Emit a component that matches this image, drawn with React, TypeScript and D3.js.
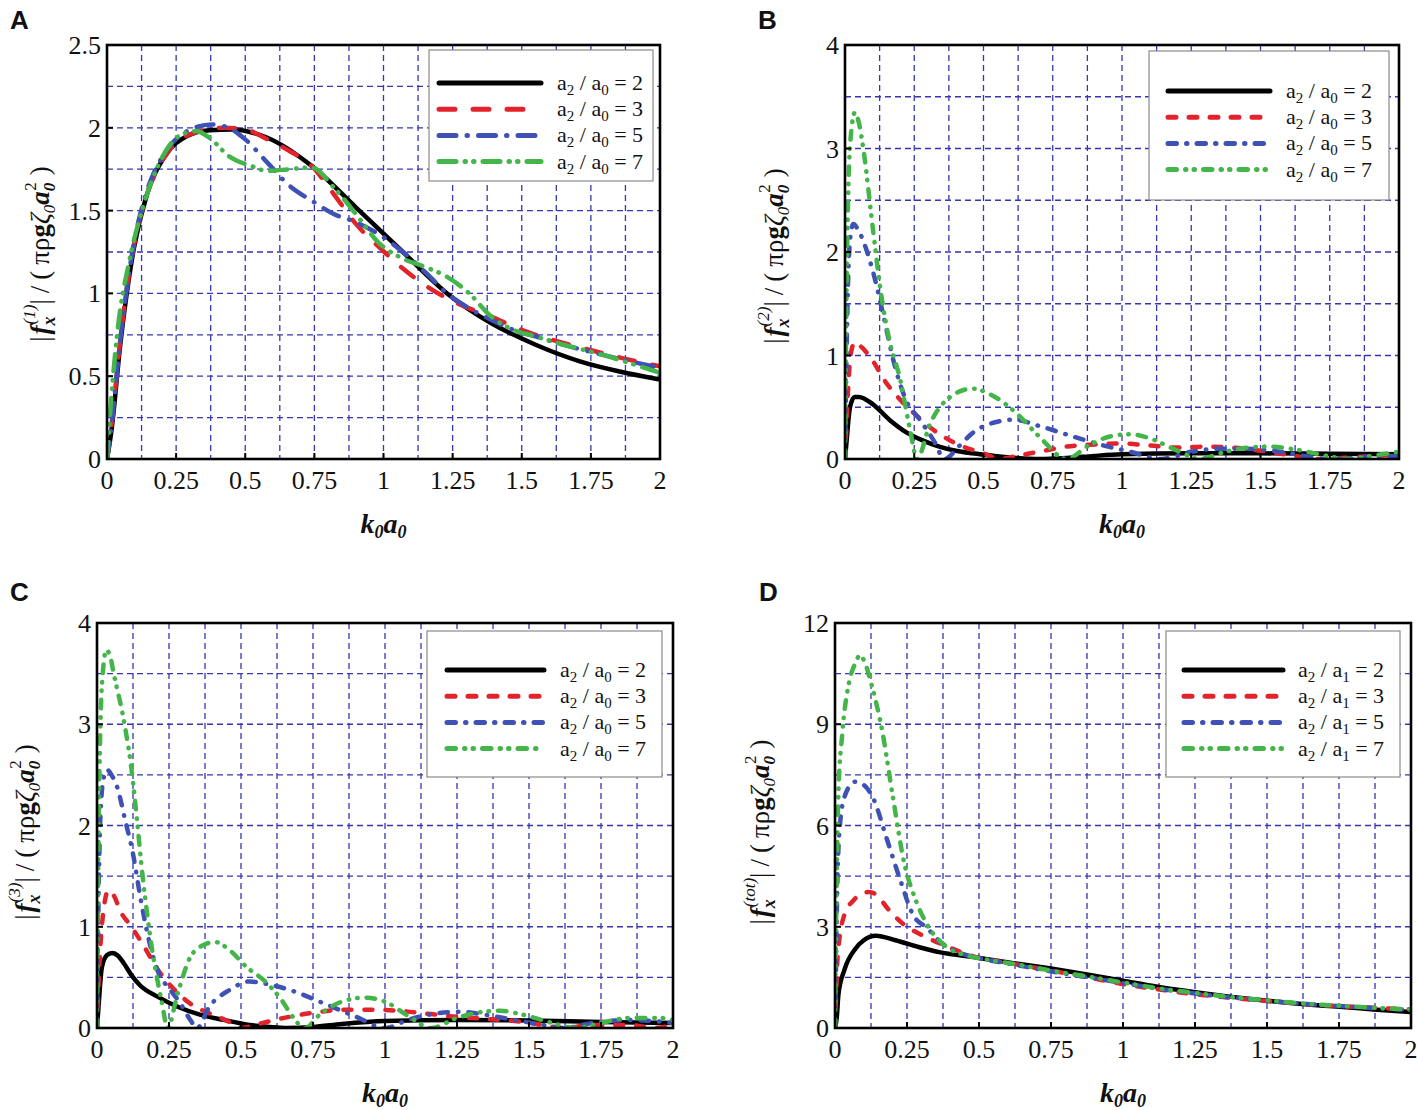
import React from 'react';
import * as d3 from 'd3';

type Pt = [number, number];

// ---- data ----
const xTickValues = [0, 0.25, 0.5, 0.75, 1, 1.25, 1.5, 1.75, 2];
const ratioValues = [2, 3, 5, 7];
const seriesColors = ['#000000', '#e3232b', '#3f51b5', '#43b549'];

const yTicksA = [0, 0.5, 1, 1.5, 2, 2.5];
const yTicksB = [0, 1, 2, 3, 4];
const yTicksC = [0, 1, 2, 3, 4];
const yTicksD = [0, 3, 6, 9, 12];

// (A) first-order force
const fx1_r2: Pt[] = [[0,0],[0.016,0.17],[0.048,0.69],[0.097,1.27],[0.145,1.6],[0.21,1.83],[0.29,1.95],[0.37,1.985],[0.45,1.99],[0.58,1.94],[0.74,1.77],[0.9,1.52],[1.07,1.25],[1.23,1.0],[1.39,0.82],[1.55,0.69],[1.71,0.59],[1.85,0.53],[2.0,0.48]];
const fx1_r3: Pt[] = [[0,0],[0.016,0.2],[0.048,0.72],[0.097,1.29],[0.145,1.6],[0.21,1.83],[0.3,1.96],[0.42,2.0],[0.5,1.99],[0.58,1.93],[0.66,1.86],[0.74,1.77],[0.82,1.6],[0.9,1.42],[0.99,1.27],[1.07,1.15],[1.15,1.05],[1.23,0.97],[1.31,0.91],[1.39,0.86],[1.47,0.8],[1.55,0.75],[1.63,0.71],[1.79,0.64],[1.94,0.58],[2.0,0.56]];
const fx1_r5: Pt[] = [[0,0],[0.016,0.2],[0.048,0.72],[0.097,1.3],[0.145,1.62],[0.21,1.85],[0.29,1.98],[0.38,2.02],[0.44,2.0],[0.5,1.93],[0.58,1.79],[0.66,1.65],[0.74,1.56],[0.82,1.48],[0.9,1.43],[0.99,1.35],[1.07,1.25],[1.15,1.13],[1.23,1.0],[1.31,0.91],[1.39,0.84],[1.47,0.78],[1.55,0.74],[1.63,0.7],[1.79,0.63],[2.0,0.55]];
const fx1_r7: Pt[] = [[0,0],[0.016,0.38],[0.04,0.8],[0.08,1.19],[0.13,1.52],[0.19,1.79],[0.26,1.95],[0.32,1.98],[0.37,1.94],[0.44,1.83],[0.52,1.77],[0.58,1.74],[0.66,1.75],[0.74,1.76],[0.82,1.64],[0.9,1.48],[0.98,1.31],[1.07,1.21],[1.15,1.16],[1.23,1.1],[1.31,1.0],[1.39,0.86],[1.47,0.78],[1.55,0.74],[1.63,0.7],[1.79,0.63],[2.0,0.52]];

// (B) second-order force
const fx2_r2: Pt[] = [[0,0],[0.006,0.18],[0.018,0.5],[0.035,0.6],[0.05,0.6],[0.1,0.53],[0.16,0.38],[0.22,0.26],[0.28,0.18],[0.34,0.12],[0.4,0.08],[0.46,0.055],[0.54,0.03],[0.62,0.01],[0.7,0],[0.8,0.01],[0.9,0.03],[1.0,0.045],[1.25,0.055],[1.5,0.055],[1.75,0.05],[2.0,0.045]];
const fx2_r3: Pt[] = [[0,0],[0.008,0.5],[0.02,1.0],[0.036,1.13],[0.06,1.08],[0.1,0.95],[0.14,0.77],[0.19,0.6],[0.25,0.44],[0.32,0.28],[0.4,0.15],[0.5,0.055],[0.56,0],[0.62,0.03],[0.7,0.07],[0.8,0.12],[0.9,0.14],[1.0,0.15],[1.1,0.13],[1.2,0.11],[1.3,0.12],[1.4,0.11],[1.5,0.08],[1.6,0.04],[1.72,0],[1.85,0.02],[2.0,0.04]];
const fx2_r5: Pt[] = [[0,0],[0.005,0.9],[0.012,1.8],[0.022,2.2],[0.03,2.27],[0.05,2.2],[0.1,1.82],[0.14,1.37],[0.175,0.95],[0.22,0.57],[0.27,0.38],[0.32,0.18],[0.36,0],[0.41,0.12],[0.46,0.25],[0.55,0.36],[0.61,0.38],[0.7,0.32],[0.82,0.22],[0.92,0.14],[1.03,0.07],[1.14,0],[1.25,0.07],[1.35,0.1],[1.45,0.1],[1.57,0.07],[1.75,0],[1.88,0.02],[2.0,0.03]];
const fx2_r7: Pt[] = [[0,0],[0.005,1.5],[0.012,2.6],[0.022,3.15],[0.036,3.35],[0.05,3.25],[0.066,3.0],[0.1,2.24],[0.13,1.6],[0.16,1.15],[0.2,0.76],[0.235,0.28],[0.26,0],[0.307,0.34],[0.38,0.6],[0.46,0.68],[0.52,0.63],[0.62,0.44],[0.7,0.22],[0.8,0],[0.88,0.13],[0.96,0.22],[1.03,0.24],[1.1,0.2],[1.2,0.08],[1.28,0],[1.36,0.06],[1.45,0.11],[1.53,0.12],[1.63,0.09],[1.74,0.03],[1.82,0],[1.9,0.03],[2.0,0.07]];

// (C) third-order force
const fx3_r2: Pt[] = [[0,0],[0.006,0.24],[0.017,0.6],[0.035,0.72],[0.052,0.74],[0.07,0.72],[0.093,0.64],[0.12,0.52],[0.15,0.42],[0.21,0.31],[0.28,0.21],[0.36,0.13],[0.44,0.08],[0.53,0.03],[0.6,0.01],[0.66,0],[0.75,0.01],[0.85,0.04],[1.0,0.07],[1.25,0.08],[1.5,0.075],[1.75,0.06],[2.0,0.05]];
const fx3_r3: Pt[] = [[0,0],[0.008,0.6],[0.02,1.1],[0.04,1.36],[0.06,1.3],[0.08,1.16],[0.12,1.0],[0.16,0.82],[0.22,0.54],[0.27,0.375],[0.324,0.24],[0.39,0.145],[0.46,0.06],[0.5,0],[0.56,0.04],[0.65,0.1],[0.75,0.15],[0.85,0.18],[0.95,0.18],[1.05,0.17],[1.15,0.14],[1.25,0.11],[1.35,0.09],[1.45,0.07],[1.55,0.03],[1.62,0],[1.72,0.03],[1.85,0.03],[1.93,0],[2.0,0.03]];
const fx3_r5: Pt[] = [[0,0],[0.005,1.2],[0.012,2.1],[0.022,2.45],[0.035,2.55],[0.05,2.5],[0.07,2.38],[0.098,2.05],[0.125,1.72],[0.15,1.3],[0.18,0.87],[0.21,0.57],[0.255,0.375],[0.29,0.24],[0.324,0.08],[0.347,0],[0.39,0.21],[0.46,0.375],[0.53,0.46],[0.58,0.44],[0.67,0.375],[0.79,0.24],[0.9,0.11],[1.0,0],[1.08,0.08],[1.17,0.14],[1.26,0.16],[1.35,0.13],[1.45,0.08],[1.55,0.03],[1.62,0],[1.72,0.05],[1.85,0.08],[2.0,0.05]];
const fx3_r7: Pt[] = [[0,0],[0.005,1.8],[0.012,3.0],[0.02,3.5],[0.032,3.73],[0.045,3.68],[0.058,3.5],[0.093,3.04],[0.12,2.55],[0.139,2.05],[0.156,1.56],[0.174,1.13],[0.19,0.8],[0.21,0.47],[0.226,0.24],[0.245,0],[0.28,0.34],[0.324,0.7],[0.37,0.82],[0.41,0.85],[0.46,0.77],[0.52,0.6],[0.58,0.47],[0.64,0.28],[0.68,0.11],[0.72,0],[0.78,0.15],[0.85,0.26],[0.93,0.3],[1.0,0.26],[1.08,0.12],[1.16,0],[1.25,0.1],[1.32,0.15],[1.4,0.17],[1.48,0.13],[1.58,0.05],[1.66,0],[1.75,0.05],[1.85,0.1],[1.95,0.1],[2.0,0.08]];

// (D) total force
const fxt_r2: Pt[] = [[0,0],[0.006,0.3],[0.012,1.0],[0.033,1.73],[0.071,2.35],[0.1,2.6],[0.141,2.73],[0.21,2.6],[0.29,2.4],[0.366,2.24],[0.49,2.09],[0.62,1.92],[0.75,1.76],[0.88,1.58],[1.0,1.4],[1.12,1.22],[1.25,1.06],[1.37,0.93],[1.5,0.81],[1.62,0.71],[1.75,0.63],[1.87,0.55],[2.0,0.47]];
const fxt_r3: Pt[] = [[0,0],[0.004,1.0],[0.009,2.1],[0.033,3.37],[0.064,3.78],[0.09,3.97],[0.118,4.03],[0.15,3.9],[0.18,3.57],[0.24,3.06],[0.3,2.76],[0.38,2.45],[0.49,2.1],[0.62,1.9],[0.75,1.7],[0.88,1.5],[1.0,1.3],[1.12,1.15],[1.25,1.0],[1.37,0.9],[1.5,0.8],[1.62,0.72],[1.75,0.65],[1.87,0.6],[2.0,0.55]];
const fxt_r5: Pt[] = [[0,0],[0.003,1.5],[0.008,4.2],[0.017,6.0],[0.035,6.9],[0.07,7.3],[0.1,7.2],[0.133,6.8],[0.18,5.6],[0.226,4.4],[0.27,3.37],[0.32,2.96],[0.366,2.55],[0.43,2.24],[0.49,2.09],[0.62,1.88],[0.75,1.68],[0.88,1.5],[1.0,1.33],[1.12,1.17],[1.25,1.02],[1.37,0.91],[1.5,0.81],[1.62,0.72],[1.75,0.65],[1.87,0.59],[2.0,0.54]];
const fxt_r7: Pt[] = [[0,0],[0.003,2.5],[0.006,4.4],[0.012,7.0],[0.025,8.7],[0.048,10.2],[0.07,10.8],[0.087,11.04],[0.105,10.8],[0.126,10.2],[0.164,8.8],[0.2,6.9],[0.24,4.9],[0.28,3.8],[0.32,3.06],[0.38,2.45],[0.46,2.14],[0.52,2.04],[0.62,1.9],[0.75,1.7],[0.88,1.52],[1.0,1.35],[1.12,1.18],[1.25,1.04],[1.37,0.92],[1.5,0.82],[1.62,0.73],[1.75,0.66],[1.87,0.6],[2.0,0.55]];

const SERIF = "'Liberation Serif', 'Times New Roman', serif";
const SANS = "'Liberation Sans', Arial, sans-serif";
const GRID = '#3636b2';

// dash styles (Tecplot-ish); panel A uses longer dashes
const dashLong = [null, '16,18', '17,11,0.5,11', '17,9,0.5,8,0.5,9'];
const dashShort = [null, '8,13', '8.5,10,0.5,10', '8.5,9,0.5,8,0.5,9'];

type PanelCfg = {
  id: string;
  box: { left: number; top: number; right: number; bottom: number };
  yMax: number;
  yTicks: number[];
  yGrid: number;
  series: Pt[][];
  sup: string;
  den: string;
  dashes: (string | null)[];
  legend: { x0: number; y0: number; x1: number; y1: number; s0: number; s1: number; tx: number; row0: number };
  yLab: { x: number; y: number };
  tag: { x: number; y: number };
};

const panels: PanelCfg[] = [
  {
    id: 'A', box: { left: 107, top: 45, right: 660, bottom: 459 }, yMax: 2.5, yTicks: yTicksA, yGrid: 0.25,
    series: [fx1_r2, fx1_r3, fx1_r5, fx1_r7], sup: '(1)', den: '0', dashes: dashLong,
    legend: { x0: 429, y0: 50, x1: 653, y1: 181, s0: 439, s1: 541, tx: 557, row0: 83 },
    yLab: { x: 49, y: 254 }, tag: { x: 10, y: 29 },
  },
  {
    id: 'B', box: { left: 845, top: 45, right: 1399, bottom: 459 }, yMax: 4, yTicks: yTicksB, yGrid: 0.5,
    series: [fx2_r2, fx2_r3, fx2_r5, fx2_r7], sup: '(2)', den: '0', dashes: dashShort,
    legend: { x0: 1149, y0: 51, x1: 1389, y1: 200, s0: 1168, s1: 1270, tx: 1286, row0: 91 },
    yLab: { x: 783, y: 256 }, tag: { x: 758, y: 29 },
  },
  {
    id: 'C', box: { left: 97, top: 623, right: 673, bottom: 1028 }, yMax: 4, yTicks: yTicksC, yGrid: 0.5,
    series: [fx3_r2, fx3_r3, fx3_r5, fx3_r7], sup: '(3)', den: '0', dashes: dashShort,
    legend: { x0: 427, y0: 631, x1: 662, y1: 777, s0: 447, s1: 544, tx: 560, row0: 670 },
    yLab: { x: 34, y: 832 }, tag: { x: 10, y: 601 },
  },
  {
    id: 'D', box: { left: 835, top: 623, right: 1411, bottom: 1028 }, yMax: 12, yTicks: yTicksD, yGrid: 1.5,
    series: [fxt_r2, fxt_r3, fxt_r5, fxt_r7], sup: '(tot)', den: '1', dashes: dashShort,
    legend: { x0: 1166, y0: 631, x1: 1400, y1: 777, s0: 1184, s1: 1283, tx: 1298, row0: 670 },
    yLab: { x: 769, y: 832 }, tag: { x: 759, y: 601 },
  },
];

const Panel: React.FC<{ cfg: PanelCfg }> = ({ cfg }) => {
  const { left, top, right, bottom } = cfg.box;
  const x = d3.scaleLinear().domain([0, 2]).range([left, right]);
  const y = d3.scaleLinear().domain([0, cfg.yMax]).range([bottom, top]);
  const line = d3.line<Pt>().x((d) => x(d[0])).y((d) => y(d[1])).curve(d3.curveMonotoneX);

  const xGrid = d3.range(1, 16).map((i) => i * 0.125);
  const nY = Math.round(cfg.yMax / cfg.yGrid);
  const yGrid = d3.range(1, nY).map((i) => i * cfg.yGrid);
  const clipId = `clip-${cfg.id}`;
  const lg = cfg.legend;

  return (
    <g>
      <defs>
        <clipPath id={clipId}>
          <rect x={left} y={top} width={right - left} height={bottom - top} />
        </clipPath>
      </defs>
      <rect x={left} y={top} width={right - left} height={bottom - top} fill="#fff" />
      {xGrid.map((v) => (
        <line key={`gx${v}`} x1={x(v)} x2={x(v)} y1={top} y2={bottom} stroke={GRID} strokeWidth={1.3} strokeDasharray="6,4" />
      ))}
      {yGrid.map((v) => (
        <line key={`gy${v}`} x1={left} x2={right} y1={y(v)} y2={y(v)} stroke={GRID} strokeWidth={1.3} strokeDasharray="6,4" />
      ))}
      <g clipPath={`url(#${clipId})`}>
        {cfg.series.map((s, i) => (
          <path key={i} d={line(s) || ''} fill="none" stroke={seriesColors[i]} strokeWidth={4.5}
            strokeLinecap="round" strokeLinejoin="round" strokeDasharray={cfg.dashes[i] || undefined} />
        ))}
      </g>
      {/* legend */}
      <rect x={lg.x0} y={lg.y0} width={lg.x1 - lg.x0} height={lg.y1 - lg.y0} fill="#fff" stroke="#8a8a8a" strokeWidth={1.2} />
      {ratioValues.map((r, i) => {
        const ry = lg.row0 + i * 26.2;
        return (
          <g key={r}>
            <line x1={lg.s0} x2={lg.s1} y1={ry} y2={ry} stroke={seriesColors[i]} strokeWidth={5}
              strokeLinecap="round" strokeDasharray={cfg.dashes[i] || undefined} />
            <text x={lg.tx} y={ry + 7} fontFamily={SERIF} fontSize={22} fill="#111">
              a<tspan fontSize={15} dy={5}>2</tspan>
              <tspan dy={-5}> / a</tspan>
              <tspan fontSize={15} dy={5}>{cfg.den}</tspan>
              <tspan dy={-5}> = {r}</tspan>
            </text>
          </g>
        );
      })}
      {/* frame */}
      <rect x={left} y={top} width={right - left} height={bottom - top} fill="none" stroke="#000" strokeWidth={2.6} />
      {xTickValues.map((v) => (
        <g key={`tx${v}`}>
          <line x1={x(v)} x2={x(v)} y1={bottom} y2={bottom - 6} stroke="#000" strokeWidth={2} />
          <text x={x(v)} y={bottom + 30} textAnchor="middle" fontFamily={SERIF} fontSize={26} fill="#111">{String(v)}</text>
        </g>
      ))}
      {cfg.yTicks.map((v) => (
        <g key={`ty${v}`}>
          <line x1={left} x2={left + 6} y1={y(v)} y2={y(v)} stroke="#000" strokeWidth={2} />
          <text x={left - 6} y={y(v) + 9} textAnchor="end" fontFamily={SERIF} fontSize={26} fill="#111">{String(v)}</text>
        </g>
      ))}
      {/* x label */}
      <text x={(left + right) / 2} y={bottom + 74} textAnchor="middle" fontFamily={SERIF} fontSize={28}
        fontWeight="bold" fontStyle="italic" fill="#111">
        k<tspan fontSize={18} dy={5}>0</tspan><tspan dy={-5}>a</tspan><tspan fontSize={18} dy={5}>0</tspan>
      </text>
      {/* y label */}
      <text transform={`translate(${cfg.yLab.x},${cfg.yLab.y}) rotate(-90)`} textAnchor="middle"
        fontFamily={SERIF} fontSize={27} fill="#111">
        <tspan>|</tspan>
        <tspan fontWeight="bold" fontStyle="italic" dx={2}>f</tspan>
        <tspan fontWeight="bold" fontStyle="italic" fontSize={18} dy={6}>x</tspan>
        <tspan fontStyle="italic" fontSize={17} dx={-8} dy={-20}>{cfg.sup}</tspan>
        <tspan dy={14}>|</tspan>
        <tspan dx={6}>/</tspan>
        <tspan dx={6}>(</tspan>
        <tspan dx={6}>πρ</tspan>
        <tspan fontWeight="bold">g</tspan>
        <tspan fontStyle="italic">ζ</tspan>
        <tspan fontStyle="italic" fontSize={17} dy={6}>0</tspan>
        <tspan fontWeight="bold" fontStyle="italic" dy={-6}>a</tspan>
        <tspan fontWeight="bold" fontStyle="italic" fontSize={17} dy={6}>0</tspan>
        <tspan fontSize={17} dx={-8} dy={-19}>2</tspan>
        <tspan dx={7} dy={13}>)</tspan>
      </text>
      <text x={cfg.tag.x} y={cfg.tag.y} fontFamily={SANS} fontWeight="bold" fontSize={26} fill="#111">{cfg.id}</text>
    </g>
  );
};

export default function App() {
  return (
    <svg width={1417} height={1110} style={{ position: 'absolute', left: 0, top: 0, background: '#fff' }}>
      <rect width={1417} height={1110} fill="#fff" />
      {panels.map((p) => <Panel key={p.id} cfg={p} />)}
    </svg>
  );
}
